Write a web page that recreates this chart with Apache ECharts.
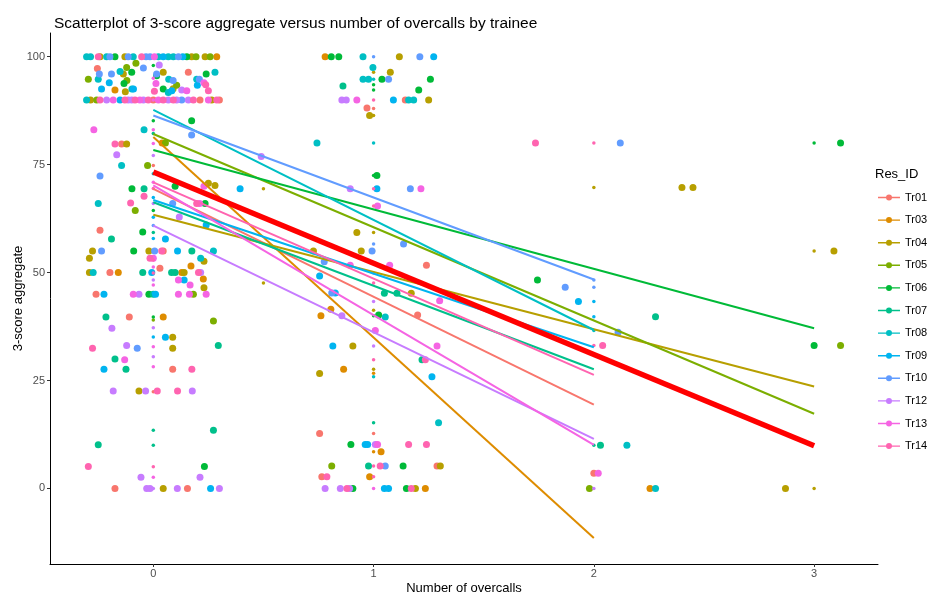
<!DOCTYPE html>
<html>
<head>
<meta charset="utf-8">
<script src="https://cdn.jsdelivr.net/npm/echarts@6/dist/echarts.min.js"></script>
<style>html,body{margin:0;padding:0;background:#fff;}#chart{width:946px;height:596px;}</style>
</head>
<body>
<div id="chart"></div>
<script>
const trainees = ['Tr01','Tr03','Tr04','Tr05','Tr06','Tr07','Tr08','Tr09','Tr10','Tr12','Tr13','Tr14'];
const xTicks = [0, 1, 2, 3];
const yTicks = [0, 25, 50, 75, 100];

const tr01Jitter = [[-0.254,97.3],[0.159,96.4],[0,90],[0.212,90],[0.3,90],[-0.144,79.8],[-0.242,59.8],[0.045,55],[-0.197,50],[0.03,51],[-0.26,45],[-0.109,39.7],[0.088,27.6],[-0.174,0],[0.155,0],[1.144,90],[0.97,88.1],[1.24,51.7],[1.2,40.2],[0.755,12.7],[1.288,5.2],[0.765,2.7],[2.0,3.5]];
const tr01Raw = [[0,74.8],[0,22.4],[1,88],[1,12.7],[2,3.5]];
const tr01Fit = [[0,69.4],[2,19.4]];

const tr03Jitter = [[0.288,100],[-0.174,92.3],[0.04,80],[-0.159,50],[0.129,50],[0.171,51.5],[0.227,48.5],[0.045,39.7],[0.78,100],[0.806,41.5],[0.761,40],[0.864,27.6],[1.034,8.5],[0.982,2.7],[1.235,0],[2.255,0]];
const tr03Raw = [[1,26.7],[1,8.5]];
const tr03Fit = [[0,81.4],[2,-11.5]];

const tr04Jitter = [[-0.242,100],[-0.129,100],[0.174,100],[0.235,100],[-0.285,90],[0.265,90],[-0.136,96],[-0.127,91.9],[0.045,96.4],[0.09,92.6],[-0.121,79.8],[0.25,70.7],[0.28,70.2],[-0.276,55],[-0.02,55],[-0.29,53.3],[0.23,52.6],[-0.29,50],[0.14,50],[0.23,46.5],[0.088,35],[0.088,32.5],[-0.065,22.6],[0.045,0],[1.117,100],[1.076,96.4],[1.25,90],[0.982,86.4],[0.924,59.3],[0.944,55],[0.727,55],[1.171,45.2],[0.906,33],[0.755,26.6],[1.303,5.2],[1.19,0],[2.4,69.7],[2.45,69.7],[3.09,55],[2.87,0]];
const tr04Raw = [[0,55.2],[0.5,69.4],[0.5,47.6],[1,96.4],[1,86.4],[1,59.3],[1,55],[1,41.3],[1,27.6],[2,69.7],[3,55],[3,0]];
const tr04Fit = [[0,63.4],[3,23.6]];

const tr05Jitter = [[0.194,100],[0.258,100],[-0.257,90],[-0.295,94.8],[-0.121,97.5],[-0.12,94.5],[-0.079,98.5],[0.106,93.4],[-0.026,74.8],[0.055,80],[-0.082,64.4],[0.182,45],[0.273,38.8],[0.81,5.2],[1.98,0],[3.12,33.1]];
const tr05Raw = [[0,39],[3,33.1]];
const tr05Fit = [[0,82.1],[3,17.3]];

const tr06Jitter = [[-0.174,100],[0.152,100],[-0.098,96.4],[-0.133,93.8],[0.015,95.6],[0.045,92.5],[0.24,96],[0.174,85.2],[-0.097,69.4],[0.099,70],[0.235,66],[-0.048,59.4],[-0.089,55],[-0.02,45],[0.232,5.1],[0.808,100],[0.842,100],[1.038,94.8],[1.258,94.8],[1.205,92.3],[1.015,72.5],[1.023,40.2],[0.897,10.2],[1.134,5.2],[0.906,0],[1.149,0],[1.744,48.3],[3.0,33.1],[3.12,80]];
const tr06Raw = [[0,100],[0,98],[0,85.2],[0,64.4],[0,39.7],[1,93.5],[1,92.3],[1,72.5],[1,40],[3,80]];
const tr06Fit = [[0,78.4],[3,37.1]];

const tr07Jitter = [[-0.042,69.4],[-0.19,57.8],[0.175,55],[-0.048,50],[0.083,50],[0.099,50],[0,45],[-0.215,39.7],[0.295,33.1],[-0.174,30],[-0.124,27.6],[0.273,13.5],[-0.25,10.1],[0.861,93.2],[1.049,45.2],[1.106,45.2],[1.22,29.8],[0.977,5.2],[2.28,39.8],[2.03,10]];
const tr07Raw = [[0,82.2],[0,59.3],[0,13.5],[0,10],[1,15.2],[2,10]];
const tr07Fit = [[0,66.3],[2,27.6]];

const tr08Jitter = [[-0.303,100],[-0.285,100],[-0.212,100],[-0.091,100],[0.023,100],[0.068,100],[0.091,100],[-0.303,90],[-0.25,94.8],[-0.151,96.6],[-0.097,92.5],[0.068,91.7],[0.07,94.8],[0.197,94.8],[0.28,96.4],[-0.042,83.1],[-0.144,74.8],[-0.25,66],[0.273,55],[0.215,53.3],[-0.273,50],[0.952,100],[0.997,97.5],[0.952,94.8],[0.977,94.8],[1.159,90],[1.182,90],[0.743,80],[1.053,39.7],[1.295,15.2],[2.15,10],[2.28,0]];
const tr08Raw = [[0,72.9],[1,94.8],[1,80],[1,25.9],[2,36.6]];
const tr08Fit = [[0,87.7],[2,36.7]];

const tr09Jitter = [[0.045,100],[0.134,100],[-0.151,90],[-0.235,92.5],[-0.2,94],[-0.09,92.5],[0.084,92.1],[0.2,93.4],[0.24,61],[0.055,57.8],[0.11,55],[-0.007,50],[0.14,48.3],[-0.224,45],[0.01,45],[0.055,35],[-0.224,27.6],[0.26,0],[0.394,69.4],[1.273,100],[1.09,90],[1.015,69.4],[0.755,49.2],[0.826,45.3],[0.815,33],[1.265,25.9],[0.962,10.2],[0.973,10.2],[1.049,0],[1.068,0],[1.93,43.3]];
const tr09Raw = [[0,67.4],[0,62.8],[0,57.9],[0,45.3],[0,35.1],[2,43.3],[2,39.8]];
const tr09Fit = [[0,66.8],[2,32.7]];

const tr10Jitter = [[-0.197,100],[-0.114,100],[-0.033,100],[-0.015,100],[0.114,100],[0.129,90],[-0.245,96],[-0.19,96],[-0.045,97.4],[0.015,96],[0.09,94.5],[0.209,94.8],[0.174,81.9],[-0.242,72.4],[0.088,66],[-0.235,55],[0.006,55],[-0.073,32.5],[1.21,100],[1.068,94.8],[1.167,69.4],[1.136,56.6],[0.993,55],[0.776,52.5],[0.81,45.3],[1.053,5.2],[2.12,80],[1.87,46.6],[2.11,36.2]];
const tr10Raw = [[0,60.9],[1,100],[1,56.6],[2,48.3],[2,46.6]];
const tr10Fit = [[0,86.4],[2,48.4]];

const tr12Jitter = [[-0.212,90],[-0.114,90],[-0.098,90],[-0.045,90],[0.068,90],[0.106,90],[0.159,90],[0.027,98.1],[0.129,92.3],[-0.166,77.3],[0.118,62.9],[0.215,50],[-0.065,45],[-0.188,37.1],[-0.121,33.1],[-0.182,22.6],[-0.035,22.6],[0.177,22.6],[-0.056,2.6],[0.212,2.6],[-0.03,0],[-0.015,0],[0.109,0],[0.3,0],[0.49,76.9],[0.856,90],[0.876,90],[0.894,69.4],[0.856,40],[1.008,10.2],[0.78,0],[0.849,0],[0.891,0]];
const tr12Raw = [[0,77.1],[0,66],[0,48.3],[0,37.2],[0,30.5],[0,0],[1,49.9],[1,43.3],[1,33],[1,10.2],[2,0]];
const tr12Fit = [[0,60.9],[2,11.5]];

const tr13Jitter = [[0.005,100],[-0.182,90],[-0.061,90],[0.023,90],[0.25,90],[0.012,93.8],[0.152,92.1],[0.23,94],[-0.27,83.1],[0.21,66],[0.23,70],[0,53.3],[0.114,48.3],[0.167,47.1],[-0.091,45],[0.114,45],[0.164,45],[0.24,45],[-0.13,29.8],[0.924,90],[1.215,69.4],[1.018,65.4],[0.894,51.7],[1.073,51.7],[1.3,43.5],[1.008,36.6],[1.288,33],[1.018,10.2],[2.02,3.5]];
const tr13Raw = [[0,95],[0,92],[0,90],[0,83.1],[0,79.9],[0,70.9],[0,53.6],[0,51.3],[0,47.1],[0,32.8],[0,28.2],[0,2.6],[1,36.7],[1,0]];
const tr13Fit = [[0,70.2],[2,10.1]];

const tr14Jitter = [[-0.25,100],[-0.053,100],[-0.242,90],[-0.129,90],[-0.083,90],[-0.023,90],[0.045,90],[0.091,90],[0.182,90],[0.288,90],[0.005,92],[0.238,93.5],[0.25,92.1],[-0.174,79.8],[-0.103,66.1],[-0.042,67.7],[0.197,66],[0.038,55],[-0.015,53.3],[0.205,50],[-0.276,32.5],[0.175,27.6],[0.018,22.6],[0.11,22.6],[-0.295,5.1],[1.235,29.8],[1.159,10.2],[1.24,10.2],[1.03,5.2],[0.788,2.7],[0.879,0],[1.171,0],[1.735,80],[2.04,33.1]];
const tr14Raw = [[0,69.5],[0,52.9],[0,49.9],[0,5],[1,90],[1,69.4],[1,65.4],[1,47.6],[1,29.8],[1,5.2],[1,2.7],[2,80],[2,33.1]];
const tr14Fit = [[0,70.9],[2,26.3]];

const overallFit = [[0,73.3],[3,9.9]];

const jitterSets = [tr01Jitter,tr03Jitter,tr04Jitter,tr05Jitter,tr06Jitter,tr07Jitter,tr08Jitter,tr09Jitter,tr10Jitter,tr12Jitter,tr13Jitter,tr14Jitter];
const rawSets = [tr01Raw,tr03Raw,tr04Raw,tr05Raw,tr06Raw,tr07Raw,tr08Raw,tr09Raw,tr10Raw,tr12Raw,tr13Raw,tr14Raw];
const fitSets = [tr01Fit,tr03Fit,tr04Fit,tr05Fit,tr06Fit,tr07Fit,tr08Fit,tr09Fit,tr10Fit,tr12Fit,tr13Fit,tr14Fit];

const palette = ['#F8766D','#DE8C00','#B79F00','#7CAE00','#00BA38','#00C08B','#00BFC4','#00B4F0','#619CFF','#C77CFF','#F564E3','#FF64B0'];
const FONT = 'Liberation Sans, Arial, Helvetica, sans-serif';
const legendIcon = 'path://M0,6.3 L22,6.3 L22,7.7 L0,7.7 Z M11,4 A3,3 0 1 1 11,10 A3,3 0 1 1 11,4 Z';

const series = [];
trainees.forEach((name, i) => {
  series.push({
    name: name, type: 'scatter', data: jitterSets[i], symbolSize: 7,
    itemStyle: { color: palette[i], opacity: 1 }, z: 2, silent: true
  });
  series.push({
    name: name, type: 'scatter', data: rawSets[i], symbolSize: 3.5,
    itemStyle: { color: palette[i], opacity: 1 }, z: 2, silent: true
  });
});
trainees.forEach((name, i) => {
  series.push({
    name: name, type: 'line', data: fitSets[i], showSymbol: false, symbol: 'none',
    lineStyle: { color: palette[i], width: 2 }, itemStyle: { color: palette[i] }, z: 3, silent: true
  });
});
series.push({
  name: 'overall', type: 'line', data: overallFit, showSymbol: false, symbol: 'none',
  lineStyle: { color: '#FF0000', width: 5.5 }, z: 4, silent: true
});

const chart = echarts.init(document.getElementById('chart'), null, { renderer: 'canvas' });
chart.setOption({
  animation: false,
  backgroundColor: '#ffffff',
  title: [
    { text: 'Scatterplot of 3-score aggregate versus number of overcalls by trainee', left: 49, top: 11,
      textStyle: { fontFamily: FONT, fontSize: 15.5, fontWeight: 'normal', color: '#000' } },
    { text: 'Res_ID', left: 870, top: 163,
      textStyle: { fontFamily: FONT, fontSize: 13, fontWeight: 'normal', color: '#000' } }
  ],
  legend: {
    orient: 'vertical', left: 873, top: 187, itemWidth: 22, itemHeight: 14, itemGap: 11.6,
    data: trainees.map((n, i) => ({ name: n, icon: legendIcon, itemStyle: { color: palette[i] } })),
    textStyle: { fontFamily: FONT, fontSize: 11, color: '#000' },
    selectedMode: false
  },
  grid: { left: 50, right: 68, top: 33, bottom: 32, containLabel: false, outerBoundsMode: 'none' },
  xAxis: {
    type: 'value', min: -0.469, max: 3.29,
    name: 'Number of overcalls', nameLocation: 'middle', nameGap: 18, nameMoveOverlap: false,
    nameTextStyle: { fontFamily: FONT, fontSize: 13, color: '#000' },
    axisLine: { show: true, onZero: false, lineStyle: { color: '#000', width: 1 } },
    axisTick: { show: true, customValues: xTicks, length: 3, lineStyle: { color: '#333' } },
    axisLabel: { customValues: xTicks, fontFamily: FONT, fontSize: 11, color: '#4D4D4D', margin: 4 },
    splitLine: { show: false }
  },
  yAxis: {
    type: 'value', min: -17.5, max: 105.5,
    name: '3-score aggregate', nameLocation: 'middle', nameGap: 25, nameRotate: 90, nameMoveOverlap: false,
    nameTextStyle: { fontFamily: FONT, fontSize: 13, color: '#000' },
    axisLine: { show: true, onZero: false, lineStyle: { color: '#000', width: 1 } },
    axisTick: { show: true, customValues: yTicks, length: 3, lineStyle: { color: '#333' } },
    axisLabel: { customValues: yTicks, fontFamily: FONT, fontSize: 11, color: '#4D4D4D', margin: 5 },
    splitLine: { show: false }
  },
  series: series
});
</script>
</body>
</html>
